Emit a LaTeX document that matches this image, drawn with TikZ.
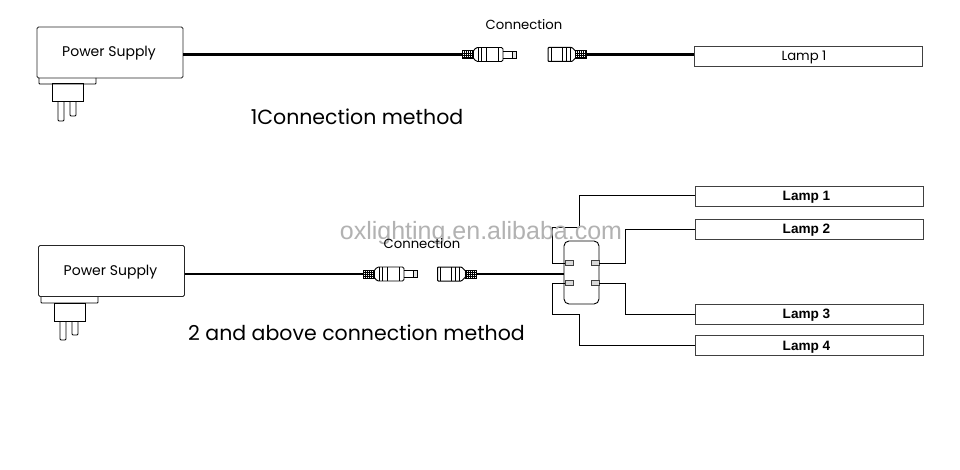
\documentclass[tikz,border=0pt]{standalone}
\usepackage{fontspec}
\setmainfont{Poppins}
\newfontfamily\lampfont{Liberation Sans}
\tikzset{
  psbox/.style={draw=black!85,line width=0.9pt,rounded corners=1.5pt,inner sep=0pt,minimum width=146pt,minimum height=51pt,text depth=0pt,font=\fontsize{14}{16}\selectfont},
  lampbox/.style={draw=black!75,line width=0.9pt,inner sep=0pt,minimum width=228pt,minimum height=20pt,text height=9pt,text depth=0pt,font=\lampfont\bfseries\fontsize{13.6}{15}\selectfont},
  lampthin/.style={draw=black!75,line width=0.9pt,inner sep=0pt,minimum width=228pt,minimum height=20pt,text height=9.5pt,text depth=0pt,font=\fontsize{13.2}{15}\selectfont},
  part/.style={draw=black,line width=0.9pt},
  cable/.style={line width=2.3pt,black},
  wire/.style={line width=1pt,black},
  hatch/.style={draw=black,line width=0.8pt,inner sep=0pt,minimum width=11pt,minimum height=8pt},
  tabnode/.style={draw=black!75,fill=black!15,line width=0.9pt,inner sep=0pt,minimum width=8pt,minimum height=5.5pt},
  hubbox/.style={draw=black,line width=0.9pt,rounded corners=5pt,inner sep=0pt,minimum width=35pt,minimum height=63pt},
  caption/.style={font=\fontsize{20.5}{24}\selectfont,inner sep=0pt},
  small/.style={font=\fontsize{13.2}{15}\selectfont,inner sep=0pt},
  mark gray/.style={font=\lampfont\fontsize{25}{28}\selectfont,text=black!30,inner sep=0pt}
}
% plug: lower-left ledge x, y below the box
\newcommand{\plugshape}[2]{%
  \begin{scope}[shift={(#1,#2)}]
    \draw[part,rounded corners=0.8pt] (0,0) -- (0,6) -- (57,6) -- (57,0);
    \draw[part,line width=1pt] (13,6) rectangle (44,24);
    \draw[part,rounded corners=1pt] (19,24) -- (19,43) -- (25,43) -- (25,24);
    \draw[part,rounded corners=1pt] (31,24) -- (31,38) -- (37,38) -- (37,24);
  \end{scope}}
% hatched grip drawing around a named node
\newcommand{\griphatch}[1]{%
  \foreach \i in {2,4,...,10}{\draw[line width=0.9pt] ([xshift=\i pt]#1.south west) -- ([xshift=\i pt]#1.north west);}
  \foreach \j in {2,4,6}{\draw[line width=0.7pt] ([yshift=\j pt]#1.south west) -- ([yshift=\j pt]#1.south east);}}
% male connector, grip left end at x, centre y
\newcommand{\maleplug}[3]{%
  \node[hatch,anchor=west] (#3) at (#1,#2) {};
  \griphatch{#3}
  \begin{scope}[shift={(#1,#2)}]
    \draw[part,rounded corners=1.5pt] (11,-3) -- (14,-7) -- (41,-7) -- (41,7) -- (14,7) -- (11,3);
    \draw[part] (16,-7) -- (16,7) (19,-7) -- (19,7) (24,-7) -- (24,7) (36,-7) -- (36,7);
    \draw[part] (41,-3.5) -- (50,-3.5) -- (50,3.5) -- (41,3.5);
    \draw[part,fill=black!10] (50,-3.5) rectangle (54,3.5);
  \end{scope}}
% female connector, body left end at x, grip from x+27
\newcommand{\femaleplug}[3]{%
  \node[hatch,anchor=east] (#3) at (#1+39,#2) {};
  \griphatch{#3}
  \begin{scope}[shift={(#1,#2)}]
    \draw[part,line width=1pt,rounded corners=0.8pt] (28,-3) -- (24,-7) -- (0,-7) -- (0,7) -- (24,7) -- (28,3);
    \draw[part] (3,-7) -- (3,7) (14,-7) -- (14,7) (18,-7) -- (18,7) (22,-7) -- (22,7);
  \end{scope}}
\begin{document}
\begin{tikzpicture}[x=1pt,y=-1pt]
\useasboundingbox (0,0) rectangle (960,470);
\fill[white] (0,0) rectangle (960,470);

% === first row ===
\node[psbox,text height=8pt] (ps1) at (110,52.5) {Power Supply\kern2pt};
\plugshape{39}{78}
\maleplug{462}{54.5}{ma}
\femaleplug{548}{54.5}{fa}
\node[lampthin] (la) at (808,56) {Lamp 1\kern8pt};
\node[small] (c1) at (524,24.5) {Connection};
\node[caption] (t1) at (357,116.5) {1Connection method};
\draw[cable] (ps1.east |- ma.west) -- (ma.west);
\draw[cable] (fa.east) -- (la.west |- fa.east);

% === second row ===
\node[psbox,text height=9pt] (ps2) at (111.5,271) {Power Supply\kern2pt};
\plugshape{41}{297}
\maleplug{363}{274}{mb}
\femaleplug{437.5}{274}{fb}
\node[hubbox] (hub) at (581.5,272.5) {};
\node[tabnode] (tl) at (569,263) {};
\node[tabnode] (bl) at (569,283) {};
\node[tabnode] (tr) at (595,263) {};
\node[tabnode] (br) at (595,283) {};
\node[lampbox] (l1) at (809,196) {Lamp 1\kern5pt};
\node[lampbox,text height=8pt] (l2) at (809,229.5) {Lamp 2\kern5pt};
\node[lampbox,text height=8pt] (l3) at (809,314.5) {Lamp 3\kern5pt};
\node[lampbox,text height=10pt] (l4) at (809,345.5) {Lamp 4\kern5pt};
\draw[cable] (ps2.east |- mb.west) -- (mb.west);
\draw[cable] (fb.east) -- (hub.west |- fb.east);
\draw[wire] (tl.west) -- (552,263) -- (552,228) -- (579,228) -- (579,196) -- (l1.west);
\draw[wire] (tr.east) -- (625,263) -- (625,229.5) -- (l2.west);
\draw[wire] (br.east) -- (625,283) -- (625,314.5) -- (l3.west);
\draw[wire] (bl.west) -- (552,283) -- (552,314) -- (579,314) -- (579,345.5) -- (l4.west);

\node[mark gray] (wm) at (481,233) {oxlighting.en.alibaba.com};
\node[small] (c2) at (422,243.5) {Connection};
\node[caption] (t2) at (356.5,333) {2 and above connection method};
\end{tikzpicture}
\end{document}
